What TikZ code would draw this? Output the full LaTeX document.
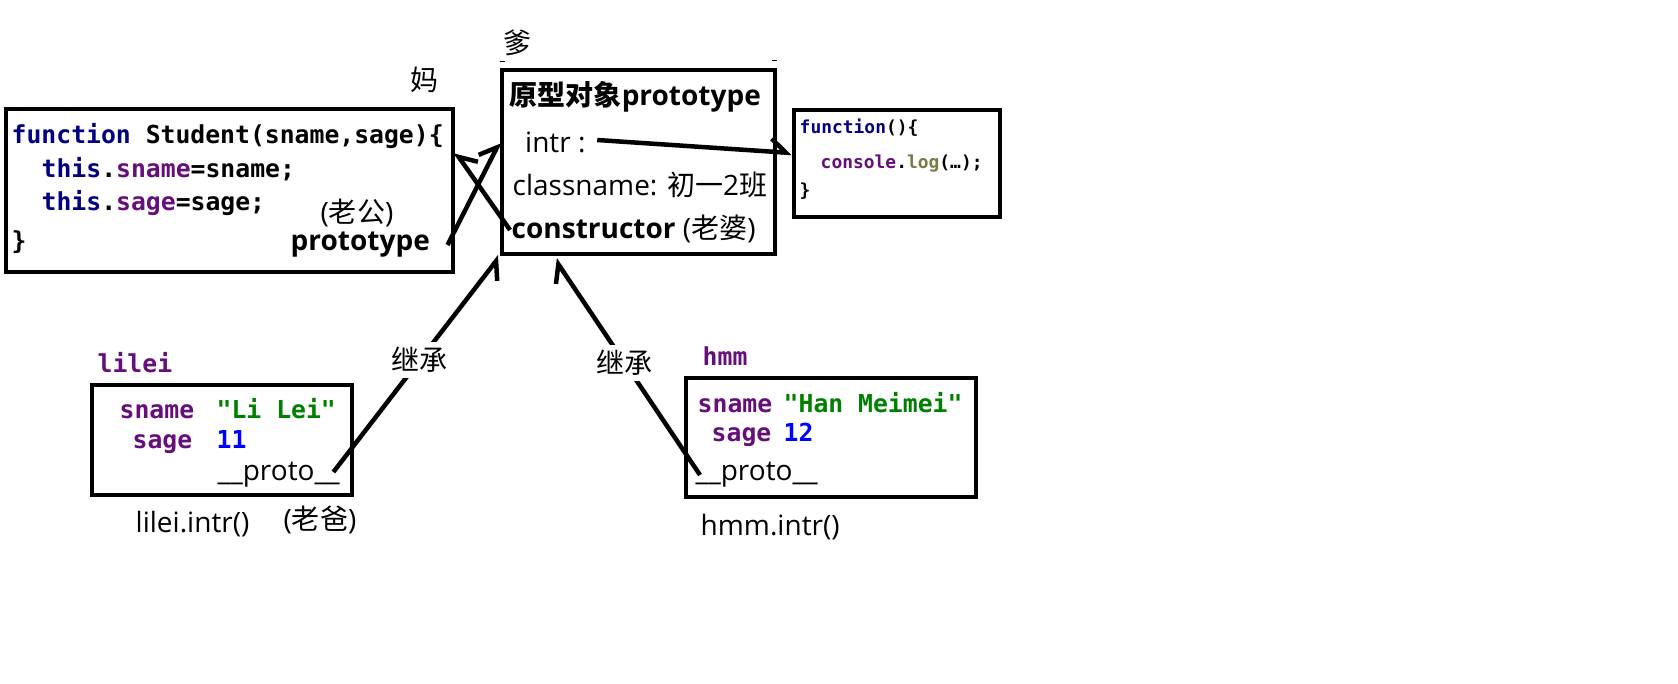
\documentclass[tikz,border=0pt]{standalone}
\usepackage{fontspec}
\setmainfont{Open Sans}
\setmonofont{DejaVu Sans Mono}
\newfontfamily\zh{Noto Sans CJK SC}
\usetikzlibrary{arrows.meta}
\definecolor{ink}{HTML}{000000}
\definecolor{kwc}{HTML}{000080}
\definecolor{propc}{HTML}{660E7A}
\definecolor{strc}{HTML}{008000}
\definecolor{numc}{HTML}{0000FF}
\definecolor{logc}{HTML}{7A7A43}
\newcommand{\sansfont}{\fontsize{7.97}{9.5}\selectfont}
\newcommand{\codefont}{\ttfamily\bfseries\fontsize{7.04}{8.4}\selectfont}
\newcommand{\smallcode}{\ttfamily\bfseries\fontsize{5.1}{6.1}\selectfont}

\begin{document}
\begin{tikzpicture}[
  font=\sansfont,
  every node/.style={inner sep=0pt},
  objbox/.style={draw=ink, line width=0.045cm},
  txt/.style={anchor=base west},
  code/.style={anchor=base west, font=\codefont},
  ptrl/.style={line width=0.045cm, -{Straight Barb[length=0.15cm,width=0.26cm,harpoon]}},
  ptrr/.style={line width=0.045cm, -{Straight Barb[length=0.15cm,width=0.26cm,harpoon,swap]}},
  edgelbl/.style={fill=white, inner sep=0.05cm, font=\sansfont\zh}
]

\path[fill=white] (0,0) rectangle (16.78,6.83);

% Boxes
\node[objbox, minimum width=4.47cm, minimum height=1.63cm] (student) at (2.295,4.925) {};
\node[objbox, minimum width=2.73cm, minimum height=1.84cm] (proto) at (6.385,5.21) {};
\node[objbox, minimum width=2.06cm, minimum height=1.07cm] (fn) at (8.97,5.195) {};
\node[objbox, minimum width=2.60cm, minimum height=1.10cm] (lilei) at (2.22,2.43) {};
\node[objbox, minimum width=2.90cm, minimum height=1.19cm] (hmm) at (8.31,2.455) {};

% Constructor function
\node[code] (l1) at (0.11,5.40) {{\color{kwc}function} Student(sname,sage)\{};
\node[code] (l2) at (0.41,5.06) {{\color{kwc}this}.{\color{propc}sname}=sname;};
\node[code] (l3) at (0.41,4.73) {{\color{kwc}this}.{\color{propc}sage}=sage;};
\node[code] (l4) at (0.11,4.34) {\}};
\node (husband) at (3.57,4.70) {({\zh 老公})};
\node[txt, font=\sansfont\bfseries] (stuproto) at (2.90,4.33) {prototype};
\node[font=\sansfont\zh] (mom) at (4.24,6.03) {妈};

% Prototype object
\node[font=\sansfont\zh] (dad) at (5.17,6.40) {爹};
\node[txt, font=\sansfont\bfseries] (ptitle) at (5.09,5.78) {{\zh 原型对象}prototype};
\node[txt] (intr) at (5.245,5.31) {intr :};
\node[txt] (cname) at (5.12,4.88) {classname: {\zh 初一}2{\zh 班}};
\node[txt] (constr) at (5.11,4.45) {\textbf{constructor} ({\zh 老婆})};

% Method
\node[code, font=\smallcode] (f1) at (7.99,5.50) {{\color{kwc}function}()\{};
\node[code, font=\smallcode] (f2) at (8.20,5.15) {{\color{propc}console}.{\color{logc}log}(…);};
\node[code, font=\smallcode] (f3) at (7.99,4.87) {\}};

% lilei
\node[code, text=propc] (liname) at (0.97,3.11) {lilei};
\node[code, text=propc] (lisn) at (1.19,2.65) {sname};
\node[code, text=strc] (lisnv) at (2.16,2.65) {"Li Lei"};
\node[code, text=propc] (lisa) at (1.32,2.35) {sage};
\node[code, text=numc] (lisav) at (2.16,2.35) {11};
\node[txt] (liproto) at (2.17,2.03) {\_\_proto\_\_};
\node[txt] (licall) at (1.35,1.51) {lilei.intr()};
\node (father) at (3.20,1.63) {({\zh 老爸})};

% hmm
\node[code, text=propc] (hmname) at (7.02,3.18) {hmm};
\node[code, text=propc] (hmsn) at (6.97,2.71) {sname};
\node[code, text=strc] (hmsnv) at (7.83,2.71) {"Han Meimei"};
\node[code, text=propc] (hmsa) at (7.11,2.42) {sage};
\node[code, text=numc] (hmsav) at (7.83,2.42) {12};
\node[txt] (hmproto) at (6.95,2.03) {\_\_proto\_\_};
\node[txt] (hmcall) at (7.00,1.48) {hmm.intr()};

% Links
\draw[ptrl] ([shift={(0.17,0.05)}]stuproto.base east) -- ([yshift=0.2cm]proto.west);
\draw[ptrr] ([shift={(-0.01,0.08)}]constr.base west) -- ([yshift=0.385cm]student.east);
\draw[ptrr] ([shift={(-0.07,0.08)}]liproto.base east) -- node[edgelbl, pos=0.52] {继承} (proto.south west);
\draw[ptrl] ([shift={(0.05,0.05)}]hmproto.base west) -- node[edgelbl, pos=0.52] {继承} ([shift={(-0.835,-0.03)}]proto.south);
\draw[ptrl] ([shift={(0.11,0.12)}]intr.base east) -- ([yshift=0.105cm]fn.west);

% little marks
\draw[line width=0.01cm] (4.995,6.22) -- (5.05,6.22);
\draw[line width=0.01cm] (7.72,6.23) -- (7.77,6.23);

\end{tikzpicture}
\end{document}
